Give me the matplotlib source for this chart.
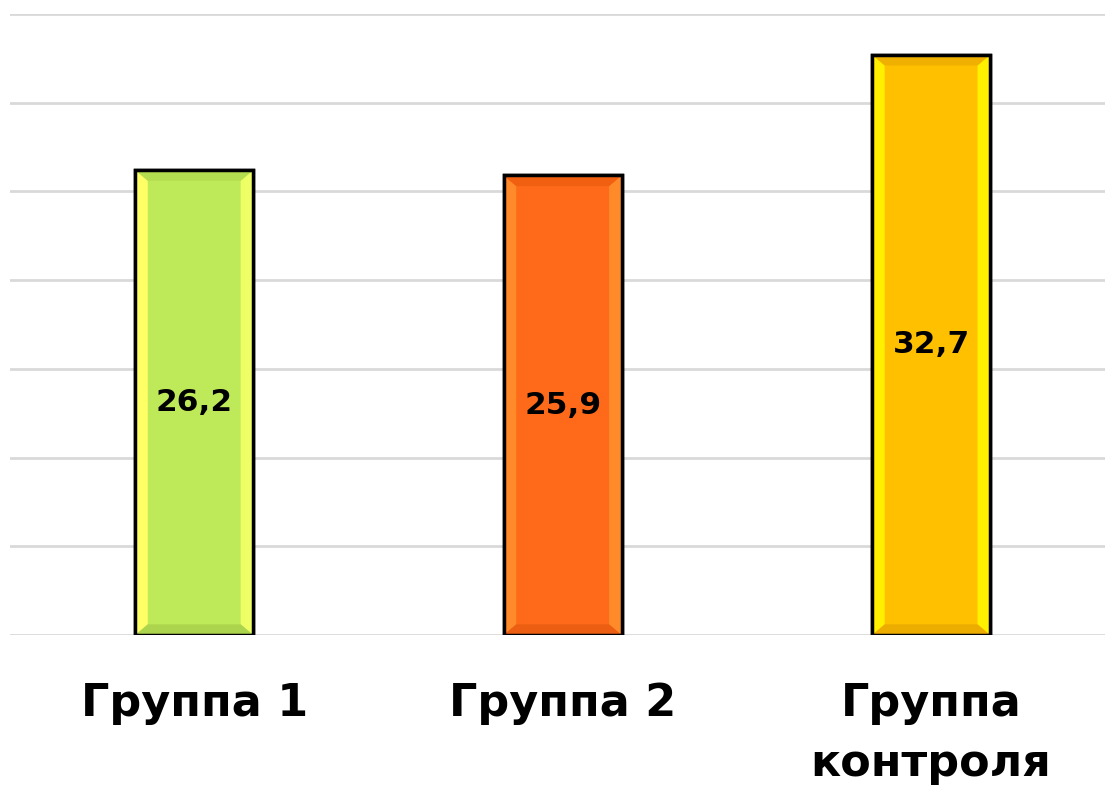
import matplotlib
matplotlib.use("Agg")
import matplotlib.pyplot as plt
from matplotlib.patches import Polygon

categories = ["Группа 1", "Группа 2", "Группа\nконтроля"]
values = [26.2, 25.9, 32.7]
labels = ["26,2", "25,9", "32,7"]
main_colors = ["#BEEA5A", "#FF6A1A", "#FFC000"]
left_colors = ["#FFFF66", "#FF8A2A", "#FFF000"]
right_colors = ["#EEFF66", "#FF8A2A", "#FFF000"]
top_colors = ["#B4DE50", "#F06010", "#F0B000"]
bottom_colors = ["#ACD44C", "#EC5E12", "#ECAC00"]

fig = plt.figure(figsize=(11.05, 7.91), dpi=100)
ax = fig.add_axes([10/1105, 156/791, 1095/1105, 621/791])

bar_w = 0.32
x = list(range(len(values)))
bars = ax.bar(x, values, width=bar_w, color=main_colors, edgecolor="black",
              linewidth=2.5, zorder=3)

# bevel strips
bx = 0.034   # horizontal bevel in data units
by = 0.6     # vertical bevel in data units
for i, (xi, v) in enumerate(zip(x, values)):
    x0, x1 = xi - bar_w/2, xi + bar_w/2
    y0, y1 = 0, v
    polys = [
        ([(x0, y0), (x0 + bx, y0 + by), (x0 + bx, y1 - by), (x0, y1)], left_colors[i]),
        ([(x1, y0), (x1 - bx, y0 + by), (x1 - bx, y1 - by), (x1, y1)], right_colors[i]),
        ([(x0, y1), (x0 + bx, y1 - by), (x1 - bx, y1 - by), (x1, y1)], top_colors[i]),
        ([(x0, y0), (x0 + bx, y0 + by), (x1 - bx, y0 + by), (x1, y0)], bottom_colors[i]),
    ]
    for pts, c in polys:
        ax.add_patch(Polygon(pts, closed=True, facecolor=c, edgecolor="none", zorder=3.5))
    ax.add_patch(plt.Rectangle((x0, y0), bar_w, v, fill=False, edgecolor="black",
                               linewidth=2.5, zorder=4))
    ax.text(xi, v / 2, labels[i], ha="center", va="center", fontsize=22.5,
            fontweight="bold", color="black", zorder=5)

ax.set_xlim(-0.5, 2.472)
ax.set_ylim(0, 35)
ax.set_yticks(range(0, 36, 5))
ax.yaxis.grid(True, color="#D9D9D9", linewidth=2)
ax.set_axisbelow(True)
ax.tick_params(axis="y", left=False, labelleft=False)
ax.tick_params(axis="x", bottom=False, pad=30)
ax.set_xticks(x)
ax.set_xticklabels(categories, fontsize=32, fontweight="bold", va="top",
                   linespacing=1.5)
for s in ax.spines.values():
    s.set_visible(False)

fig.savefig("out.png", dpi=100)
